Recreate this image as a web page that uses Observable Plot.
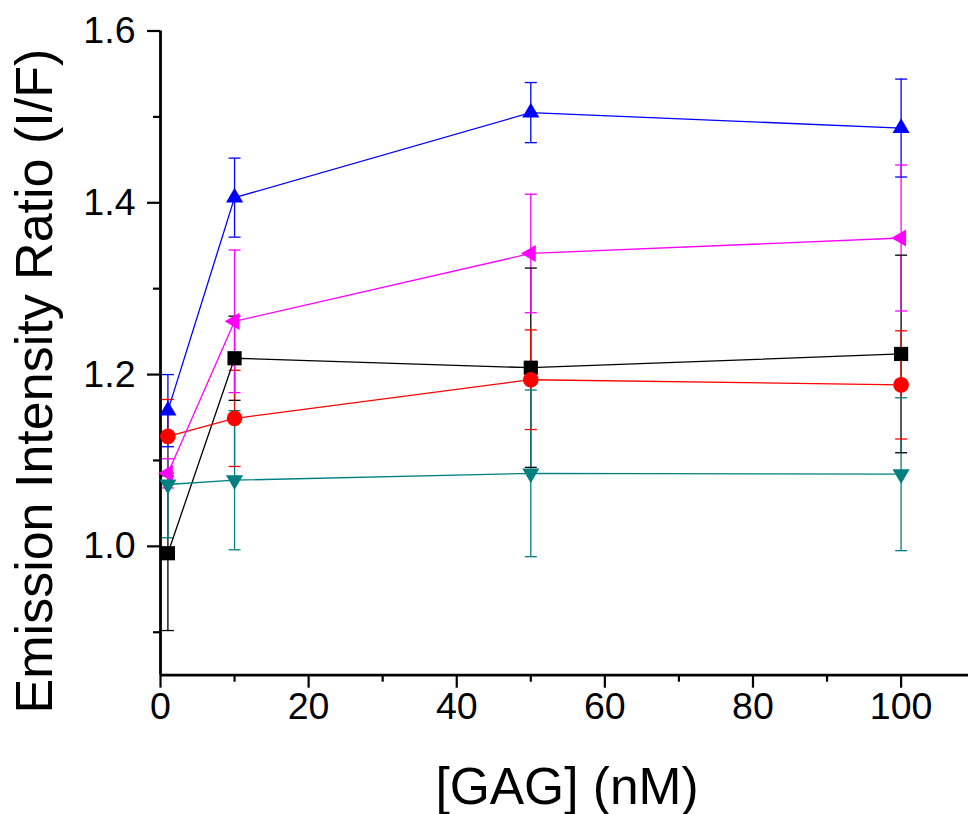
<!DOCTYPE html>
<html>
<head>
<meta charset="utf-8">
<script src="https://cdn.jsdelivr.net/npm/d3@7"></script>
<script src="https://cdn.jsdelivr.net/npm/@observablehq/plot@0.6"></script>
<style>
  html, body { margin: 0; padding: 0; background: white; }
  #chart svg { display: block; }
</style>
</head>
<body>
<div id="chart"></div>
<script>
// ---- data ----
const gag = [1, 10, 50, 100];               // [GAG] (nM)
const seriesNames = ["S1", "S2", "S3", "S4", "S5"];
const s1 = [0.992, 1.219, 1.208, 1.224];   // black squares
const s1Err = [0.090, 0.049, 0.116, 0.115];
const s2 = [1.128, 1.149, 1.194, 1.188];   // red circles
const s2Err = [0.043, 0.056, 0.058, 0.063];
const s3 = [1.158, 1.406, 1.505, 1.487];   // blue up-triangles
const s3Err = [0.042, 0.046, 0.035, 0.057];
const s4 = [1.085, 1.262, 1.341, 1.359];   // magenta left-triangles
const s4Err = [0.017, 0.083, 0.069, 0.085];
const s5 = [1.072, 1.077, 1.085, 1.084];   // teal down-triangles
const s5Err = [0.062, 0.081, 0.097, 0.089];
const xMajorTicks = [0, 20, 40, 60, 80, 100];
const xMinorTicks = [10, 30, 50, 70, 90];
const yMajorTicks = [1.0, 1.2, 1.4, 1.6];
const yMinorTicks = [0.9, 1.1, 1.3, 1.5];
const xTitle = "[GAG] (nM)";
const yTitle = "Emission Intensity Ratio (I/F)";

// ---- build table ----
const allVals = [s1, s2, s3, s4, s5];
const allErrs = [s1Err, s2Err, s3Err, s4Err, s5Err];
const rows = [];
seriesNames.forEach((name, i) => {
  gag.forEach((g, j) => {
    rows.push({series: name, gag: g, ratio: allVals[i][j], err: allErrs[i][j]});
  });
});
const colors = ["#000000", "#ff0000", "#0000ff", "#ff00ff", "#008080"];

// custom symbols
function triangle(angleDeg) {
  return {
    draw(ctx, size) {
      const r = Math.sqrt(size / Math.PI);
      const R = r * 1.3;
      const a0 = angleDeg * Math.PI / 180;
      for (let k = 0; k < 3; k++) {
        const a = a0 + k * 2 * Math.PI / 3;
        const px = R * Math.cos(a), py = R * Math.sin(a);
        if (k === 0) ctx.moveTo(px, py); else ctx.lineTo(px, py);
      }
      ctx.closePath();
    }
  };
}
const capSymbol = {
  draw(ctx, size) {
    const r = Math.sqrt(size / Math.PI);
    ctx.moveTo(-r, 0); ctx.lineTo(r, 0);
  }
};
const markerSpec = [
  {series: "S1", symbol: "square", r: 8.0},
  {series: "S2", symbol: "circle", r: 7.8},
  {series: "S3", symbol: triangle(-90), r: 7.6},
  {series: "S4", symbol: triangle(180), r: 7.6},
  {series: "S5", symbol: triangle(90), r: 7.6}
];

const font = "'Liberation Sans', Arial, Helvetica, sans-serif";

const markerMarks = markerSpec.map(m =>
  Plot.dot(rows.filter(d => d.series === m.series), {
    x: "gag", y: "ratio", fill: "series", stroke: "none", symbol: m.symbol, r: m.r
  })
);

const plot = Plot.plot({
  width: 968,
  height: 814,
  marginLeft: 160,
  marginRight: 0,
  marginTop: 30.5,
  marginBottom: 139.3,
  style: {fontFamily: font, color: "black", background: "white"},
  x: {domain: [0, 109.1], label: null},
  y: {domain: [0.85, 1.6], label: null},
  color: {domain: seriesNames, range: colors},
  marks: [
    // axes frame lines
    Plot.ruleX([0], {stroke: "black", strokeWidth: 2.8}),
    Plot.ruleY([0.85], {stroke: "black", strokeWidth: 2.8}),
    Plot.axisX({ticks: xMajorTicks, tickSize: 13, tickPadding: 4, fontSize: 37.5, strokeWidth: 2.2, label: null, tickFormat: d3.format("d")}),
    Plot.axisX({ticks: xMinorTicks, tickSize: 7, strokeWidth: 2.2, label: null, tickFormat: () => ""}),
    Plot.axisY({ticks: yMajorTicks, tickSize: 13, tickPadding: 12, fontSize: 37.5, strokeWidth: 2.2, label: null, tickFormat: d3.format(".1f")}),
    Plot.axisY({ticks: yMinorTicks, tickSize: 7, strokeWidth: 2.2, label: null, tickFormat: () => ""}),
    // error bars
    Plot.ruleX(rows, {x: "gag", y1: d => d.ratio - d.err, y2: d => d.ratio + d.err, stroke: "series", strokeWidth: 1.3}),
    Plot.dot(rows, {x: "gag", y: d => d.ratio + d.err, symbol: () => capSymbol, r: 6, stroke: "series", strokeWidth: 1.3, fill: "none"}),
    Plot.dot(rows, {x: "gag", y: d => d.ratio - d.err, symbol: () => capSymbol, r: 6, stroke: "series", strokeWidth: 1.3, fill: "none"}),
    // lines
    Plot.line(rows, {x: "gag", y: "ratio", z: "series", stroke: "series", strokeWidth: 1.3}),
    // markers
    ...markerMarks,
    // titles
    Plot.text([xTitle], {frameAnchor: "bottom", dx: 2.5, dy: 112, lineAnchor: "middle", fontSize: 51.5, fill: "black"}),
    Plot.text([yTitle], {frameAnchor: "left", dx: -125, dy: 28, rotate: -90, lineAnchor: "middle", textAnchor: "middle", fontSize: 52, fill: "black"})
  ]
});
document.getElementById("chart").appendChild(plot);
</script>
</body>
</html>
